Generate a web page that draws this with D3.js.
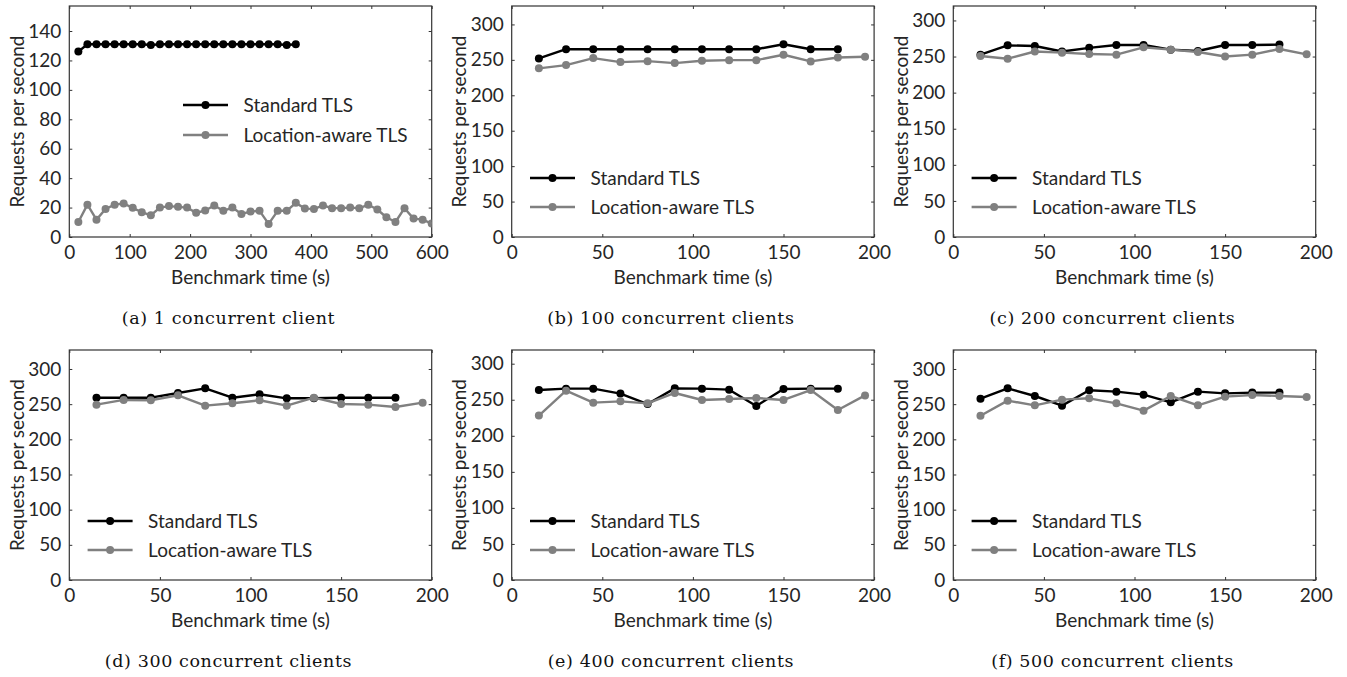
<!DOCTYPE html>
<html>
<head>
<meta charset="utf-8">
<script src="https://cdn.jsdelivr.net/npm/d3@7"></script>
<style>
  body { margin: 0; background: #fff; }
  svg { display: block; }
</style>
</head>
<body>
<svg id="chart"></svg>
<script>
// ---- data ----
const captions = [
  "(a) 1 concurrent client",
  "(b) 100 concurrent clients",
  "(c) 200 concurrent clients",
  "(d) 300 concurrent clients",
  "(e) 400 concurrent clients",
  "(f) 500 concurrent clients"
];
const seriesNames = ["Standard TLS", "Location-aware TLS"];

const timesLong = [15, 30, 45, 60, 75, 90, 105, 120, 135, 150, 165, 180, 195, 210, 225, 240, 255, 270, 285, 300,
  315, 330, 345, 360, 375, 390, 405, 420, 435, 450, 465, 480, 495, 510, 525, 540, 555, 570, 585, 600];
const timesShort = [15, 30, 45, 60, 75, 90, 105, 120, 135, 150, 165, 180, 195];

const xTicksLong = [0, 100, 200, 300, 400, 500, 600];
const xTicksShort = [0, 50, 100, 150, 200];
const yTicksSmall = [0, 20, 40, 60, 80, 100, 120, 140];
const yTicksLarge = [0, 50, 100, 150, 200, 250, 300];

const xMax = [600, 200, 200, 200, 200, 200];
const yMax = [157, 326, 320, 327, 319, 327];

const standardA = [126, 131, 131, 131, 131, 131, 131, 131, 130.5, 131, 131, 131, 131, 131, 131, 131, 131, 131, 131, 131, 131, 131, 131, 130.5, 131];
const locationA = [10.2, 22, 11.8, 19, 22, 22.8, 19.8, 16.8, 14.8, 20, 21, 20.5, 20, 16.4, 18, 21.4, 17.8, 20, 15.7, 17.3,
  17.8, 8.9, 17.8, 17.8, 23.2, 19.3, 19.1, 21.4, 19.6, 19.6, 20, 19.6, 21.9, 18.7, 13.4, 10.2, 19.6, 12.5, 11.8, 9.1];

const standardB = [252, 265, 265, 265, 265, 265, 265, 265, 265, 272, 265, 265];
const locationB = [238, 242.6, 252.5, 246.8, 248.2, 245.4, 248.7, 249.6, 249.6, 257.2, 247.8, 253.4, 254.4];

const standardC = [252.6, 265.5, 264.6, 257, 262, 266, 266, 259.5, 257.7, 266, 266, 266.5];
const locationC = [250.8, 247, 257, 255.4, 253.6, 252.6, 262.8, 259.5, 256.3, 250, 252.6, 260.5, 253];

const standardD = [259.2, 259.2, 259.2, 265.9, 272.5, 259.2, 264, 258.3, 258.3, 259.2, 259.2, 259.2];
const locationD = [249.3, 256, 255.5, 262.6, 247.9, 251.2, 255.5, 247.9, 259.2, 250.2, 249.3, 246, 252.1];

const standardE = [263.5, 265.4, 265.4, 258.5, 244, 265.8, 265.4, 264, 241.4, 265, 265.4, 265.4];
const locationE = [228, 262.6, 246, 247.8, 245, 259.4, 249.7, 251, 252.4, 249.7, 263.5, 235.8, 256];

const standardF = [257.8, 272.5, 261.6, 247.9, 269.7, 267.8, 263.5, 252.6, 267.8, 265.4, 266.4, 266.4];
const locationF = [233.6, 255, 248.3, 256.4, 258.3, 251.2, 240.8, 261.6, 248.3, 260.7, 263, 261.6, 260.2];

const panels = [
  { times: [timesLong, timesLong], std: standardA, loc: locationA, xTicks: xTicksLong, yTicks: yTicksSmall },
  { times: [timesShort, timesShort], std: standardB, loc: locationB, xTicks: xTicksShort, yTicks: yTicksLarge },
  { times: [timesShort, timesShort], std: standardC, loc: locationC, xTicks: xTicksShort, yTicks: yTicksLarge },
  { times: [timesShort, timesShort], std: standardD, loc: locationD, xTicks: xTicksShort, yTicks: yTicksLarge },
  { times: [timesShort, timesShort], std: standardE, loc: locationE, xTicks: xTicksShort, yTicks: yTicksLarge },
  { times: [timesShort, timesShort], std: standardF, loc: locationF, xTicks: xTicksShort, yTicks: yTicksLarge }
];

// ---- layout ----
const W = 1347, H = 677;
const colLeft = [69.3, 511.7, 953.3];
const rowTop = [6, 350];
const rowHeight = [231, 230];
const plotW = 362.4;
const colors = ["#000000", "#808080"];
const sans = "Lato, 'DejaVu Sans', sans-serif";
const serif = "'DejaVu Serif', serif";
const textColor = "#262626";
const fontSize = "19px";

const svg = d3.select("#chart").attr("width", W).attr("height", H);

panels.forEach((p, i) => {
  const col = i % 3, row = Math.floor(i / 3);
  const h = rowHeight[row];
  const g = svg.append("g")
    .attr("transform", `translate(${colLeft[col]},${rowTop[row]})`);

  const x = d3.scaleLinear().domain([0, xMax[i]]).range([0, plotW]);
  const y = d3.scaleLinear().domain([0, yMax[i]]).range([h, 0]);

  // inward ticks on all four sides
  const styleAxis = sel => {
    sel.select(".domain").remove();
    sel.selectAll(".tick line").attr("stroke", "#333").attr("stroke-width", 1);
    sel.selectAll("text")
      .attr("fill", textColor)
      .style("font-family", sans)
      .style("font-size", fontSize);
  };

  g.append("g").attr("transform", `translate(0,${h})`)
    .call(d3.axisBottom(x).tickValues(p.xTicks).tickSize(-3).tickPadding(9).tickFormat(d3.format("d")))
    .call(styleAxis);
  g.append("g")
    .call(d3.axisTop(x).tickValues(p.xTicks).tickSize(-3).tickFormat(""))
    .call(styleAxis);
  g.append("g")
    .call(d3.axisLeft(y).tickValues(p.yTicks).tickSize(-3).tickPadding(8).tickFormat(d3.format("d")))
    .call(styleAxis);
  g.append("g").attr("transform", `translate(${plotW},0)`)
    .call(d3.axisRight(y).tickValues(p.yTicks).tickSize(-3).tickFormat(""))
    .call(styleAxis);

  // frame
  g.append("rect")
    .attr("width", plotW).attr("height", h)
    .attr("fill", "none").attr("stroke", "#333").attr("stroke-width", 1.2);

  // series (grey drawn on top)
  const series = [p.std, p.loc];
  const clip = "clip" + i;
  g.append("clipPath").attr("id", clip).append("rect")
    .attr("x", -6).attr("y", -6).attr("width", plotW + 6).attr("height", h + 6);

  series.forEach((vals, s) => {
    const pts = vals.map((v, k) => [p.times[s][k], v]);
    const line = d3.line().x(d => x(d[0])).y(d => y(d[1]));
    const sg = g.append("g").attr("clip-path", `url(#${clip})`);
    sg.append("path")
      .attr("d", line(pts))
      .attr("fill", "none")
      .attr("stroke", colors[s])
      .attr("stroke-width", 2.4)
      .attr("stroke-linejoin", "round");
    sg.selectAll("circle").data(pts).join("circle")
      .attr("cx", d => x(d[0]))
      .attr("cy", d => y(d[1]))
      .attr("r", 4)
      .attr("fill", colors[s]);
  });

  // legend
  const lx = i === 0 ? 113.7 : 18.3;
  const ly = i === 0 ? [99, 129] : [h - 59, h - 30];
  seriesNames.forEach((name, s) => {
    const lg = g.append("g").attr("transform", `translate(${lx},${ly[s]})`);
    lg.append("line").attr("x1", 0).attr("x2", 45)
      .attr("stroke", colors[s]).attr("stroke-width", 2.4);
    lg.append("circle").attr("cx", 22.5).attr("r", 4).attr("fill", colors[s]);
    lg.append("text")
      .attr("x", 60.5).attr("dy", "0.35em")
      .attr("fill", textColor)
      .style("font-family", sans).style("font-size", fontSize)
      .text(name);
  });

  // axis titles
  g.append("text")
    .attr("x", plotW / 2).attr("y", h + 40)
    .attr("dy", "0.35em").attr("text-anchor", "middle")
    .attr("fill", textColor)
    .style("font-family", sans).style("font-size", fontSize)
    .text("Benchmark time (s)");

  g.append("text")
    .attr("transform", `translate(-52,${h / 2}) rotate(-90)`)
    .attr("dy", "0.35em").attr("text-anchor", "middle")
    .attr("fill", textColor)
    .style("font-family", sans).style("font-size", fontSize)
    .text("Requests per second");

  // caption
  g.append("text")
    .attr("x", plotW / 2 - 22).attr("y", h + 81)
    .attr("dy", "0.35em").attr("text-anchor", "middle")
    .attr("fill", "#111")
    .style("font-family", serif).style("font-size", "17.5px")
    .style("letter-spacing", "0.6px")
    .text(captions[i]);
});
</script>
</body>
</html>
